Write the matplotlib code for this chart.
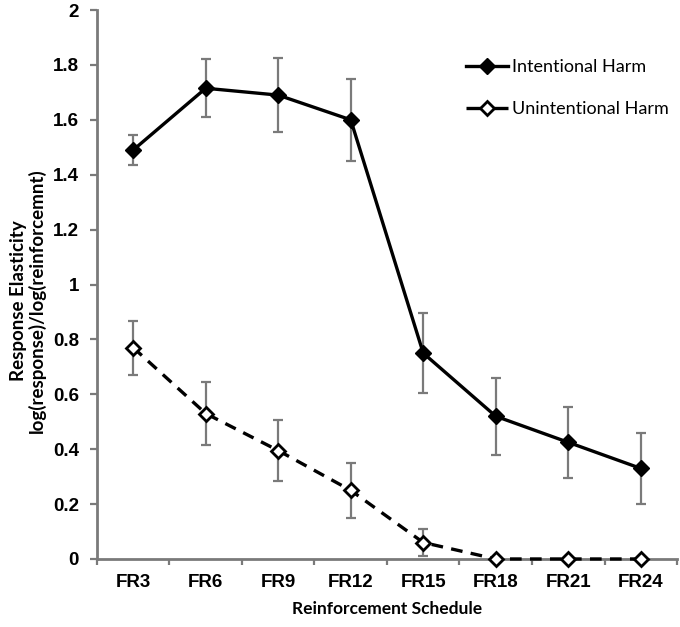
import matplotlib
matplotlib.use("Agg")
import matplotlib.pyplot as plt
from matplotlib.lines import Line2D
import numpy as np

categories = ["FR3", "FR6", "FR9", "FR12", "FR15", "FR18", "FR21", "FR24"]
intentional = [1.49, 1.715, 1.69, 1.60, 0.75, 0.52, 0.425, 0.33]
intentional_err = [0.055, 0.105, 0.135, 0.15, 0.145, 0.14, 0.13, 0.13]
unintentional = [0.77, 0.53, 0.395, 0.25, 0.06, 0.0, 0.0, 0.0]
unintentional_err = [0.098, 0.115, 0.11, 0.10, 0.05, 0.0, 0.0, 0.0]
series_names = ["Intentional Harm", "Unintentional Harm"]
yticks = [0, 0.2, 0.4, 0.6, 0.8, 1, 1.2, 1.4, 1.6, 1.8, 2]
ytick_labels = ["0", "0.2", "0.4", "0.6", "0.8", "1", "1.2", "1.4", "1.6", "1.8", "2"]

gray = "#7a7a7a"
fig = plt.figure(figsize=(6.8, 6.27), dpi=100)
ax = fig.add_axes([0.1426, 0.1085, 0.853, 0.8755])

x = np.arange(len(categories))

ax.errorbar(x, intentional, yerr=intentional_err, fmt="none", ecolor=gray,
            elinewidth=1.6, capsize=3.5, capthick=1.6, zorder=2)
ue = np.array(unintentional_err)
mask = ue > 0
ax.errorbar(x[mask], np.array(unintentional)[mask], yerr=ue[mask], fmt="none",
            ecolor=gray, elinewidth=1.6, capsize=3.5, capthick=1.6, zorder=2)

ax.plot(x, intentional, color="black", lw=2.4, marker="D", markersize=8.5,
        markerfacecolor="black", markeredgecolor="black", zorder=3)
ax.plot(x, unintentional, color="black", lw=2.4, ls=(0, (3.5, 2.5)), marker="D",
        markersize=7, markerfacecolor="white", markeredgecolor="black",
        markeredgewidth=2, zorder=3, clip_on=False)

ax.set_xlim(-0.5, len(categories) - 0.5)
ax.set_ylim(0, 2)
ax.set_yticks(yticks)
ax.set_yticklabels(ytick_labels)
ax.set_xticks(x)
ax.set_xticklabels(categories)
ax.set_xticks(np.arange(len(categories) + 1) - 0.5, minor=True)
ax.tick_params(axis="x", which="major", length=0, pad=11)
ax.tick_params(axis="x", which="minor", length=4, width=1.6, color=gray, direction="out")
ax.tick_params(axis="y", length=5, width=1.6, color=gray, direction="out", pad=8)
for lab in ax.get_xticklabels() + ax.get_yticklabels():
    lab.set_fontfamily("Liberation Sans")
    lab.set_fontsize(13.5)
    lab.set_fontweight("bold")

for side in ["top", "right"]:
    ax.spines[side].set_visible(False)
for side in ["left", "bottom"]:
    ax.spines[side].set_color(gray)
    ax.spines[side].set_linewidth(2)

ax.set_xlabel("Reinforcement Schedule", fontfamily="Lato", fontweight="bold",
              fontsize=12.5, labelpad=7)
fig.text(28 / 680, 1 - 301 / 627, "Response Elasticity\nlog(response)/log(reinforcemnt)",
         rotation=90, ha="center", va="center", multialignment="center",
         fontfamily="Lato", fontweight="bold", fontsize=13.5, linespacing=1.1)

handles = [
    Line2D([], [], color="black", lw=2.4, marker="D", markersize=8.5,
           markerfacecolor="black", markeredgecolor="black"),
    Line2D([], [], color="black", lw=2.4, ls=(0, (5.5, 2.2)), marker="D", markersize=7,
           markerfacecolor="white", markeredgecolor="black", markeredgewidth=2),
]
leg = ax.legend(handles, series_names, loc="upper left",
                bbox_to_anchor=(466 / 680, 1 - 59 / 627),
                bbox_transform=fig.transFigure, frameon=False,
                prop={"family": "Lato", "size": 13}, handlelength=2.3,
                handletextpad=0.25, labelspacing=1.45, borderpad=0, borderaxespad=0)

fig.savefig("out.png", dpi=100)
